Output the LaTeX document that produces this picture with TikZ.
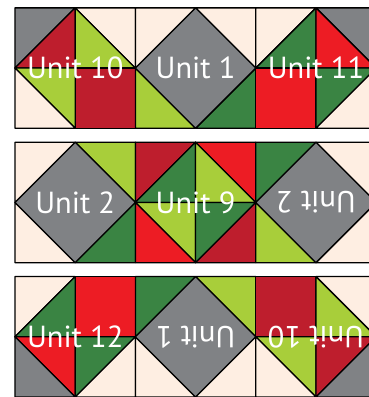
\documentclass[tikz,border=0pt]{standalone}
\usepackage{fontspec}
\setsansfont{PT Sans}

\definecolor{patchcream}{HTML}{FEEEE2}
\definecolor{patchgray}{HTML}{808285}
\definecolor{patchdarkred}{HTML}{BE1E2D}
\definecolor{patchred}{HTML}{ED1C24}
\definecolor{patchlime}{HTML}{A8CE3A}
\definecolor{patchgreen}{HTML}{3A8443}

% Một ô: cột, hàng, kiểu (0 = vuông, 1 = chéo /, 2 = chéo \), màu 1, màu 2
\newcommand{\quiltcell}[5]{%
    \ifcase#3\relax
        \path[patch, fill=#4, shift={(#1,#2)}] (0,0) rectangle (1,1);
    \or
        \path[patch, fill=#4, shift={(#1,#2)}] (0,0) -- (0,1) -- (1,1) -- cycle;
        \path[patch, fill=#5, shift={(#1,#2)}] (0,0) -- (1,1) -- (1,0) -- cycle;
    \or
        \path[patch, fill=#4, shift={(#1,#2)}] (0,1) -- (1,1) -- (1,0) -- cycle;
        \path[patch, fill=#5, shift={(#1,#2)}] (0,1) -- (0,0) -- (1,0) -- cycle;
    \fi
}

% Khối hình thoi xám: góc trên trái, trên phải, dưới trái, dưới phải
\newcommand{\diamondblock}[4]{%
    \path[patch, fill=#1] (0,1) -- (0,2) -- (1,2) -- cycle;
    \path[patch, fill=#2] (1,2) -- (2,2) -- (2,1) -- cycle;
    \path[patch, fill=#3] (0,1) -- (0,0) -- (1,0) -- cycle;
    \path[patch, fill=#4] (2,1) -- (2,0) -- (1,0) -- cycle;
    \path[patch, fill=patchgray] (1,2) -- (2,1) -- (1,0) -- (0,1) -- cycle;
}

\begin{document}
\begin{tikzpicture}[
        font=\sffamily,
        patch/.style={draw=black, line width=0.6pt, line join=round},
        unit label/.style={text=white, inner sep=0pt, font=\sffamily\fontsize{14.4}{16}\selectfont},
    ]

    % Khung ảnh (bên phải bị cắt như bản gốc)
    \clip (-0.249,0) rectangle (5.880,6.595);

    % Hàng 1
    \begin{scope}[shift={(0,4.464)}]
        \foreach \cx/\cy/\kind/\ca/\cb in {0/1/1/patchgray/patchdarkred, 1/1/2/patchcream/patchlime,
                0/0/2/patchlime/patchcream, 1/0/0/patchdarkred/patchdarkred} {
            \quiltcell{\cx}{\cy}{\kind}{\ca}{\cb}
        }
        \node[unit label] (unit-10-a) at (1,1) {Unit 10};
    \end{scope}
    \begin{scope}[shift={(2,4.464)}]
        \diamondblock{patchcream}{patchcream}{patchlime}{patchgreen}
        \node[unit label] (unit-1-a) at (1,1) {Unit 1};
    \end{scope}
    \begin{scope}[shift={(4,4.464)}]
        \foreach \cx/\cy/\kind/\ca/\cb in {0/1/1/patchcream/patchgreen, 1/1/2/patchgray/patchred,
                0/0/0/patchred/patchred, 1/0/1/patchgreen/patchcream} {
            \quiltcell{\cx}{\cy}{\kind}{\ca}{\cb}
        }
        \node[unit label] (unit-11) at (1,1) {Unit 11};
    \end{scope}

    % Hàng 2
    \begin{scope}[shift={(0,2.232)}]
        \diamondblock{patchcream}{patchlime}{patchcream}{patchgreen}
        \node[unit label] (unit-2-a) at (1,1) {Unit 2};
    \end{scope}
    \begin{scope}[shift={(2,2.232)}]
        \foreach \cx/\cy/\kind/\ca/\cb in {0/1/1/patchdarkred/patchgreen, 1/1/2/patchred/patchlime,
                0/0/2/patchlime/patchred, 1/0/1/patchgreen/patchdarkred} {
            \quiltcell{\cx}{\cy}{\kind}{\ca}{\cb}
        }
        \node[unit label] (unit-9) at (1,1) {Unit 9};
    \end{scope}
    \begin{scope}[shift={(4,2.232)}]
        \diamondblock{patchgreen}{patchcream}{patchlime}{patchcream}
        \node[unit label, rotate=180] (unit-2-b) at (1,1) {Unit 2};
    \end{scope}

    % Hàng 3
    \begin{scope}[shift={(0,0)}]
        \foreach \cx/\cy/\kind/\ca/\cb in {0/1/1/patchcream/patchgreen, 1/1/0/patchred/patchred,
                0/0/2/patchred/patchgray, 1/0/1/patchgreen/patchcream} {
            \quiltcell{\cx}{\cy}{\kind}{\ca}{\cb}
        }
        \node[unit label] (unit-12) at (1,1) {Unit 12};
    \end{scope}
    \begin{scope}[shift={(2,0)}]
        \diamondblock{patchgreen}{patchlime}{patchcream}{patchcream}
        \node[unit label, rotate=180] (unit-1-b) at (1,1) {Unit 1};
    \end{scope}
    \begin{scope}[shift={(4,0)}]
        \foreach \cx/\cy/\kind/\ca/\cb in {0/1/0/patchdarkred/patchdarkred, 1/1/2/patchcream/patchlime,
                0/0/2/patchlime/patchcream, 1/0/1/patchdarkred/patchgray} {
            \quiltcell{\cx}{\cy}{\kind}{\ca}{\cb}
        }
        \node[unit label, rotate=180] (unit-10-b) at (1,1) {Unit 10};
    \end{scope}

\end{tikzpicture}
\end{document}
